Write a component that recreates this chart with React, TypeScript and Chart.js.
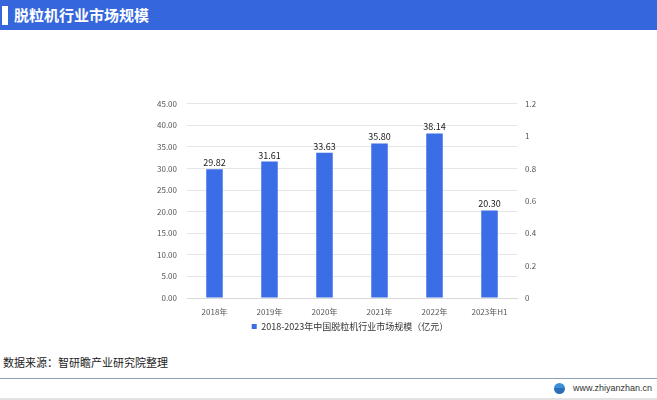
import React, { useEffect, useRef } from "react";
import { Chart, registerables } from "chart.js";

Chart.register(...registerables);

const categories = ["2018年", "2019年", "2020年", "2021年", "2022年", "2023年H1"];
const marketSize = [29.82, 31.61, 33.63, 35.8, 38.14, 20.3];
const seriesLabel = "2018-2023年中国脱粒机行业市场规模（亿元）";
const titleText = "脱粒机行业市场规模";
const sourceText = "数据来源：智研瞻产业研究院整理";
const siteText = "www.zhiyanzhan.cn";

const FONT = "'Noto Sans CJK SC', 'Noto Sans', sans-serif";

const valueLabels = {
  id: "valueLabels",
  afterDatasetsDraw(chart: any) {
    const ctx = chart.ctx;
    const meta = chart.getDatasetMeta(0);
    ctx.save();
    ctx.font = `9px ${FONT}`;
    ctx.fillStyle = "#222";
    ctx.textAlign = "center";
    ctx.textBaseline = "bottom";
    meta.data.forEach((el: any, i: number) => {
      ctx.fillText(marketSize[i].toFixed(2), el.x, el.y - 2);
    });
    ctx.restore();
  },
};

export default function App() {
  const ref = useRef<HTMLCanvasElement>(null);
  useEffect(() => {
    document.body.style.margin = "0";
    const chart = new Chart(ref.current!, {
      type: "bar",
      data: {
        labels: categories,
        datasets: [
          {
            label: seriesLabel,
            data: marketSize,
            backgroundColor: "#3a6de6",
            barPercentage: 0.6,
            categoryPercentage: 0.5,
            yAxisID: "y",
          },
        ],
      },
      options: {
        animation: false,
        responsive: false,
        maintainAspectRatio: false,
        layout: { padding: { top: 4, right: 0, left: 0, bottom: 4 } },
        plugins: {
          legend: {
            position: "bottom",
            labels: {
              boxWidth: 5,
              boxHeight: 5,
              font: { size: 9, family: FONT },
              color: "#333",
              padding: 6,
            },
          },
          tooltip: { enabled: false },
        },
        scales: {
          x: {
            grid: { display: false },
            border: { display: true, color: "#d9d9d9" },
            ticks: { font: { size: 8, family: FONT }, color: "#555", padding: 1 },
            afterFit: (s: any) => { s.height = 18; },
          },
          y: {
            position: "left",
            min: 0,
            max: 45,
            ticks: {
              stepSize: 5,
              font: { size: 8, family: FONT },
              color: "#555",
              padding: 10,
              callback: (v: any) => Number(v).toFixed(2),
            },
            grid: { color: "#e6e6e6", drawTicks: false },
            border: { display: false },
            afterFit: (s: any) => { s.width = 47; },
          },
          y2: {
            position: "right",
            min: 0,
            max: 1.2,
            ticks: {
              stepSize: 0.2,
              font: { size: 8, family: FONT },
              color: "#555",
              padding: 8,
              callback: (v: any) => String(Math.round(Number(v) * 10) / 10),
            },
            grid: { display: false, drawTicks: false },
            border: { display: false },
            afterFit: (s: any) => { s.width = 43; },
          },
        },
      },
      plugins: [valueLabels],
    });
    return () => chart.destroy();
  }, []);

  return (
    <div style={{ position: "fixed", left: 0, top: 0, width: 657, height: 400, background: "#fff", overflow: "hidden", fontFamily: FONT }}>
      <div style={{ position: "absolute", left: 0, top: 0, width: 657, height: 30, background: "#3566dc" }} />
      <div style={{ position: "absolute", left: 2, top: 6, width: 6, height: 19, background: "#fff" }} />
      <div style={{ position: "absolute", left: 14, top: 4, color: "#fff", fontSize: 15, fontWeight: 700, lineHeight: "22px" }}>{titleText}</div>
      <canvas ref={ref} width={420} height={256} style={{ position: "absolute", left: 140, top: 89, width: 420, height: 256 }} />
      <div style={{ position: "absolute", left: 3, top: 354, fontSize: 11, color: "#222" }}>{sourceText}</div>
      <div style={{ position: "absolute", left: 0, top: 378, width: 657, height: 1, background: "#8fa3b8" }} />
      <div style={{ position: "absolute", left: 554, top: 383, width: 11, height: 11, borderRadius: 6, background: "linear-gradient(#3b8fd9 50%, #2a6fb5 50%)" }} />
      <div style={{ position: "absolute", left: 573, top: 382, fontSize: 9, color: "#333", lineHeight: "12px", fontFamily: "'Liberation Sans', Arial, sans-serif", whiteSpace: "nowrap" }}>{siteText}</div>
      <div style={{ position: "absolute", left: 0, top: 398, width: 657, height: 2, background: "#e2e2e2" }} />
    </div>
  );
}
